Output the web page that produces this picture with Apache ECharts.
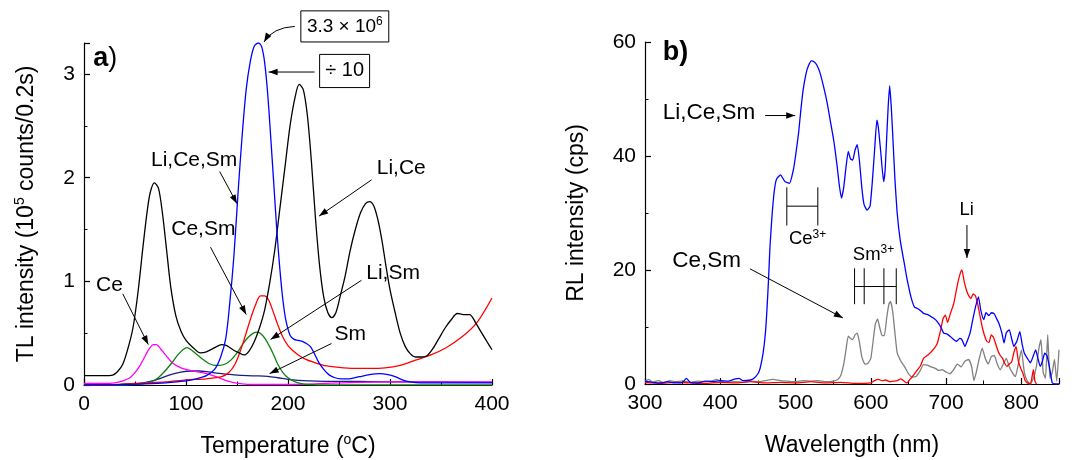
<!DOCTYPE html>
<html>
<head>
<meta charset="utf-8">
<script src="https://cdn.jsdelivr.net/npm/echarts@6/dist/echarts.min.js"></script>
<style>html,body{margin:0;padding:0;background:#fff}#c{width:1072px;height:460px}</style>
</head>
<body>
<div id="c"></div>
<script>
// ---------- Panel a: TL glow curves (Temperature °C, 10^5 counts/0.2s) ----------
const tLiCe = [0,10,20,28,33,38,43,48,53,58,62,65,69,73,77,81,85,90,95,100,107,114,120,128,135,140,146,152,157,162,167,172,177,182,187,192,197,202,207,211,215,219,223,227,231,235,239,243,247,251,256,261,266,271,276,280,284,288,292,296,300,305,310,315,320,325,330,336,342,348,354,360,366,372,378,384,390,395,400];
const vLiCe = [0.09,0.09,0.09,0.095,0.13,0.2,0.35,0.55,0.9,1.35,1.68,1.86,1.95,1.9,1.65,1.3,0.95,0.67,0.52,0.43,0.36,0.31,0.32,0.36,0.39,0.38,0.34,0.31,0.29,0.33,0.42,0.55,0.72,0.98,1.3,1.7,2.1,2.5,2.78,2.9,2.85,2.6,2.15,1.6,1.15,0.85,0.7,0.65,0.7,0.85,1.05,1.3,1.5,1.66,1.75,1.77,1.73,1.6,1.4,1.15,0.92,0.7,0.5,0.37,0.3,0.27,0.27,0.28,0.35,0.45,0.55,0.63,0.69,0.68,0.68,0.6,0.5,0.42,0.34];

const tLiCeSm = [0,20,40,60,80,100,110,120,128,134,139,143,147,151,155,159,163,167,171,174,177,180,183,186,189,192,195,198,202,206,210,214,218,222,226,230,235,240,246,252,260,270,280,290,298,305,312,320,330,345,360,380,400];
const vLiCeSm = [0,0,0.005,0.01,0.02,0.04,0.06,0.09,0.15,0.27,0.45,0.8,1.25,1.85,2.4,2.85,3.12,3.27,3.3,3.27,3.12,2.82,2.4,1.95,1.5,1.12,0.82,0.62,0.48,0.44,0.43,0.42,0.4,0.37,0.3,0.22,0.15,0.1,0.07,0.06,0.06,0.08,0.1,0.11,0.1,0.08,0.05,0.03,0.02,0.02,0.02,0.02,0.02];

const tCeSm = [0,20,40,60,80,100,120,135,142,148,153,158,163,168,173,177,181,185,190,195,200,205,210,217,225,235,250,265,280,295,310,325,340,355,370,385,400];
const vCeSm = [0,0,0.01,0.02,0.03,0.05,0.06,0.08,0.12,0.2,0.32,0.47,0.63,0.77,0.86,0.86,0.82,0.72,0.58,0.46,0.38,0.33,0.29,0.25,0.22,0.19,0.17,0.16,0.16,0.165,0.19,0.24,0.29,0.36,0.46,0.6,0.84];

const tLiSm = [0,30,50,60,70,78,85,92,97,101,105,110,116,122,128,133,138,144,150,156,161,166,170,174,178,182,186,190,195,200,206,212,220,240,270,300,350,400];
const vLiSm = [0,0,0.005,0.015,0.05,0.12,0.2,0.29,0.34,0.36,0.34,0.3,0.25,0.21,0.19,0.19,0.2,0.24,0.31,0.4,0.46,0.5,0.51,0.49,0.44,0.37,0.29,0.2,0.12,0.07,0.035,0.015,0.005,0,0,0,0,0];

const tCe = [0,20,30,38,45,50,55,60,64,68,71,75,80,86,92,100,110,120,128,135,140,148,155,165,200,250,300,350,400];
const vCe = [0.015,0.015,0.02,0.04,0.07,0.12,0.19,0.28,0.35,0.39,0.39,0.35,0.29,0.22,0.18,0.15,0.13,0.11,0.085,0.06,0.04,0.02,0.01,0.005,0.005,0.02,0.03,0.03,0.03];

const tSm = [0,40,55,65,75,85,95,105,112,120,130,140,150,160,170,180,190,200,210,220,240,270,300,350,400];
const vSm = [0,0.005,0.015,0.035,0.065,0.1,0.125,0.135,0.135,0.13,0.115,0.105,0.095,0.09,0.088,0.083,0.07,0.055,0.045,0.04,0.035,0.035,0.03,0.03,0.025];

// ---------- Panel b: RL spectra (Wavelength nm, cps) ----------
const wLiCeSm = [300,310,320,330,340,350,355,360,370,380,390,400,410,420,425,430,440,444,450,453,457,460,462,464,466,469,471,473,475,480,486,492,497,500,504,507,510,514,517,521,525,528,532,537,542,546,551,555,558,561,564,567,570,573,576,579,582,585,588,591,595,599,602,605,608,610,613,617,619,621,623,625,627,629,632,635,639,644,648,652,655,658,661,665,670,675,679,684,688,693,697,701,706,710,714,718,721,725,728,732,735,739,743,746,750,753,757,760,764,767,770,774,777,780,784,787,790,794,798,801,804,808,812,816,819,822,825,828,831,834,838,841,845,850];
const iLiCeSm = [0.5,0.3,0.2,0.4,0.2,0.3,1.0,0.3,0.2,0.5,0.4,0.6,0.5,0.9,1.0,0.6,0.7,0.9,1.8,2.8,5.5,9,13,18,24,30,33,35,36,36.7,35.5,35.2,37.5,40,44,48,51.5,54.5,55.8,56.7,56.5,56,54.8,52.3,49.3,46.3,42.5,38.5,35,32.6,34.5,38,40.8,39.5,39.3,41,42,39,34.5,31.5,30.5,31.2,35.5,41,46.3,45,41,35.5,37.5,43,48.5,52.3,49,44,36,30,25.3,21.5,18.5,16,14.5,13.5,13.3,13,12.4,12.2,11.9,11.5,11,10,8.9,8.8,8.3,7.8,7.5,8,7.8,6.6,7.5,9,11,13.5,15.3,13,11.3,12.5,12,12.5,12.3,11.5,10.7,9,7.2,9,9.5,8,6.6,7.5,9.2,7,5.4,4.5,3.7,5,6,4.5,3.1,4,5.4,5,2.5,0.2,0,0];

const wCeSm = [300,305,310,318,325,333,340,350,360,370,380,390,395,400,410,420,430,440,450,460,470,480,490,500,510,520,530,540,550,556,560,564,567,570,573,576,579,582,585,588,592,596,600,603,606,609,612,615,618,621,624,626,629,632,635,640,645,650,655,660,665,670,675,680,685,690,695,700,705,710,715,720,725,730,734,737,740,744,748,752,756,760,764,768,772,776,780,784,788,792,796,800,804,808,812,816,820,823,826,829,832,835,838,841,844,847,850];
const iCeSm = [0.5,0.8,0.3,0.6,0.2,0.6,0.4,0.5,0.3,0.5,0.4,0.6,0.8,0.5,0.3,0.4,0.3,0.5,0.4,0.6,0.8,0.6,0.5,0.4,0.6,0.5,0.6,0.4,0.5,0.8,1.5,3.5,6,8.4,8,7.8,8.6,8.9,7.2,4.8,3.5,3.6,4.5,7.5,10.5,11.4,9.8,8.5,8.5,11.5,14,14.5,12.8,9,5.5,4,3,1.8,1.2,1.3,2.2,3.4,3.3,3,2.8,2.4,2.5,2.1,1.8,2.5,3.5,3,4,4.3,3,0.6,2,4.4,6.3,4.5,3.5,4.8,5,3.5,2.5,3.5,4.5,3,2,1.3,3.5,6,2,0.5,0,1,3.1,6,7.8,2,1,8.6,1,2,4.3,0.5,6];

const wLi = [300,320,340,360,380,400,420,440,460,480,500,520,540,560,580,600,605,610,615,620,625,630,635,640,645,648,652,657,662,666,670,675,680,684,688,692,696,699,702,706,710,713,716,719,721,724,727,730,733,736,739,742,745,748,751,754,757,760,763,766,769,772,775,778,781,784,787,790,793,796,799,802,805,808,812,816,818,820];
const iLi = [0.3,0.1,0.3,0.2,0.1,0.3,0.2,0.4,0.2,0.3,0.2,0.4,0.2,0.3,0.1,0.2,0.6,0.8,0.6,0.7,0.4,0.5,0.6,0.9,0.4,0.2,0.8,1.6,2.5,3.2,4.5,5,5.6,6.2,7,9,11.5,12.1,10.8,12.5,14,16,18,19.5,20,18,16.5,15.5,15,15.8,15.5,14,12,10,8.5,7.5,7.3,8.6,8.2,7,5.8,5,4.5,3.6,3.1,3.5,3.8,5.5,6.6,4,2.8,1.9,0.6,0.2,0,2.5,0.5,0];

const zip = (xs, ys) => xs.map((x, i) => [x, ys[i]]);
const FONT = '"Liberation Sans", Arial, sans-serif';

function valueAxis(grid, min, max, interval, extra) {
  return Object.assign({
    type: 'value', gridIndex: grid, min: min, max: max, interval: interval,
    axisLine: {show: true, onZero: false, lineStyle: {color: '#000', width: 1.2}},
    axisTick: {show: true, inside: true, length: 6, lineStyle: {color: '#000', width: 1.2}},
    minorTick: {show: true, splitNumber: 2, length: 3.5, lineStyle: {color: '#000', width: 1}},
    splitLine: {show: false},
    axisLabel: {color: '#000', fontSize: 21, fontFamily: FONT, margin: 9},
    nameLocation: 'middle',
    nameTextStyle: {color: '#000', fontSize: 23, fontFamily: FONT,
      rich: {sup: {fontSize: 14, fontFamily: FONT, color: '#000', verticalAlign: 'top', lineHeight: 28}, n: {fontSize: 23, fontFamily: FONT, color: '#000', lineHeight: 28}}}
  }, extra || {});
}

function lineSeries(name, data, color, xi, smooth) {
  return {type: 'line', name: name, data: data, xAxisIndex: xi, yAxisIndex: xi,
    showSymbol: false, symbol: 'none', smooth: smooth, animation: false, clip: true,
    lineStyle: {color: color, width: 1.3}};
}

const chart = echarts.init(document.getElementById('c'), null, {renderer: 'canvas'});
const option = {
  backgroundColor: '#fff',
  animation: false,
  grid: [
    {left: 84, top: 43, width: 408, height: 342, containLabel: false, outerBoundsMode: 'none'},
    {left: 645, top: 42, width: 414, height: 342, containLabel: false, outerBoundsMode: 'none'}
  ],
  xAxis: [
    valueAxis(0, 0, 400, 100, {name: '{n|Temperature (}{sup|o}{n|C)}', nameGap: 48}),
    valueAxis(1, 300, 850, 100, {name: 'Wavelength (nm)', nameGap: 50,
      axisLabel: {color: '#000', fontSize: 21, fontFamily: FONT, margin: 9, showMaxLabel: false}})
  ],
  yAxis: [
    valueAxis(0, 0, 3.3, 1, {name: '{n|TL intensity (10}{sup|5}{n| counts/0.2s)}', nameGap: 43,
      axisLabel: {color: '#000', fontSize: 21, fontFamily: FONT, margin: 9, showMaxLabel: false}}),
    valueAxis(1, 0, 60, 20, {name: 'RL intensity (cps)', nameGap: 57})
  ],
  series: [
    lineSeries('Sm', zip(tSm, vSm), '#1c1c80', 0, 0.3),
    lineSeries('Ce', zip(tCe, vCe), '#ff00ff', 0, 0.3),
    lineSeries('Li,Sm', zip(tLiSm, vLiSm), '#118011', 0, 0.3),
    lineSeries('Ce,Sm', zip(tCeSm, vCeSm), '#ff0000', 0, 0.3),
    lineSeries('Li,Ce', zip(tLiCe, vLiCe), '#000000', 0, 0.3),
    lineSeries('Li,Ce,Sm', zip(tLiCeSm, vLiCeSm), '#0000ff', 0, 0.3),
    lineSeries('Ce,Sm b', zip(wCeSm, iCeSm), '#808080', 1, 0.15),
    lineSeries('Li b', zip(wLi, iLi), '#ff0000', 1, 0.15),
    lineSeries('Li,Ce,Sm b', zip(wLiCeSm, iLiCeSm), '#0000ff', 1, 0.15)
  ]
};
chart.setOption(option);

// ---------- annotations (positions given in data coordinates) ----------
const P = (g, x, y) => chart.convertToPixel({gridIndex: g}, [x, y]);
const G = [];
function txt(g, x, y, text, size, extra) {
  const p = P(g, x, y);
  G.push({type: 'text', x: p[0], y: p[1], z: 100, style: Object.assign({
    text: text, font: size + 'px ' + FONT, fill: '#000', align: 'center', verticalAlign: 'middle'
  }, extra || {})});
}
function head(x2, y2, fx, fy) {
  const dx = x2 - fx, dy = y2 - fy, L = Math.hypot(dx, dy) || 1;
  const ux = dx / L, uy = dy / L, len = 9, w = 3.2;
  const bx = x2 - ux * len, by = y2 - uy * len;
  G.push({type: 'polygon', z: 100, shape: {points: [[x2, y2], [bx - uy * w, by + ux * w], [bx + uy * w, by - ux * w]]}, style: {fill: '#000'}});
}
function arrow(g, x1, y1, x2, y2) {
  const a = P(g, x1, y1), b = P(g, x2, y2);
  G.push({type: 'line', z: 100, shape: {x1: a[0], y1: a[1], x2: b[0], y2: b[1]}, style: {stroke: '#000', lineWidth: 1}});
  head(b[0], b[1], a[0], a[1]);
}
function seg(g, x1, y1, x2, y2) {
  const a = P(g, x1, y1), b = P(g, x2, y2);
  G.push({type: 'line', z: 100, shape: {x1: a[0], y1: a[1], x2: b[0], y2: b[1]}, style: {stroke: '#000', lineWidth: 1}});
}
function box(g, x1, y1, x2, y2) {
  const a = P(g, x1, y1), b = P(g, x2, y2);
  G.push({type: 'rect', z: 99, shape: {x: a[0], y: a[1], width: b[0] - a[0], height: b[1] - a[1]}, style: {fill: '#fff', stroke: '#000', lineWidth: 1}});
}
const SUP = (px, lh) => ({s: {font: px + 'px ' + FONT, fill: '#000', verticalAlign: 'top', lineHeight: lh}});

// panel a
txt(0, 9, 3.15, '{b|a}{r|)}', 26, {align: 'left', rich: {b: {font: 'bold 27px ' + FONT, fill: '#000'}, r: {font: '27px ' + FONT, fill: '#000'}}});
txt(0, 108, 2.17, 'Li,Ce,Sm', 21);
arrow(0, 133, 2.06, 150, 1.75);
txt(0, 117, 1.5, 'Ce,Sm', 21);
arrow(0, 124, 1.33, 159, 0.68);
txt(0, 311, 2.09, 'Li,Ce', 21);
arrow(0, 282, 1.98, 230.5, 1.63);
txt(0, 303, 1.08, 'Li,Sm', 21);
arrow(0, 272, 1.01, 183, 0.44);
txt(0, 25, 0.96, 'Ce', 21);
arrow(0, 38, 0.88, 63, 0.39);
txt(0, 261, 0.49, 'Sm', 21);
arrow(0, 242.6, 0.40, 182, 0.11);
box(0, 212.6, 3.61, 298.8, 3.31);
txt(0, 255.7, 3.46, '3.3 \u00d7 10{s|6}', 19, {rich: SUP(12, 22)});
box(0, 231, 3.19, 280, 2.87);
txt(0, 255.5, 3.03, '\u00f7 10', 20);
arrow(0, 226, 3.02, 181, 3.02);
(function () {
  const a = P(0, 206.7, 3.46), c = P(0, 185, 3.45), b = P(0, 176.5, 3.31);
  G.push({type: 'bezierCurve', z: 100, shape: {x1: a[0], y1: a[1], x2: b[0], y2: b[1], cpx1: c[0], cpy1: c[1]}, style: {stroke: '#000', lineWidth: 1, fill: null}});
  head(b[0], b[1], c[0], c[1]);
})();

// panel b
txt(1, 323.5, 58.2, 'b)', 27, {align: 'left', font: 'bold 27px ' + FONT});
txt(1, 385, 47.5, 'Li,Ce,Sm', 22.5);
arrow(1, 459.6, 47.1, 499.5, 47.1);
seg(1, 488.4, 34.5, 488.4, 27.8);
seg(1, 529.6, 34.5, 529.6, 27.8);
seg(1, 488.4, 31.2, 529.6, 31.2);
txt(1, 516, 25.4, 'Ce{s|3+}', 18.5, {rich: SUP(12, 21)});
txt(1, 382, 21.7, 'Ce,Sm', 22.5);
arrow(1, 439.6, 20.2, 562.9, 11.6);
txt(1, 603.6, 22.7, 'Sm{s|3+}', 18.5, {rich: SUP(12, 21)});
[578.4, 591.2, 617.4, 633.8].forEach(w => seg(1, w, 20.3, w, 14.0));
seg(1, 578.4, 17.1, 633.8, 17.1);
txt(1, 727.3, 30.5, 'Li', 18.5);
arrow(1, 727.7, 27.9, 727.7, 22.1);

chart.setOption({graphic: G});
</script>
</body>
</html>
